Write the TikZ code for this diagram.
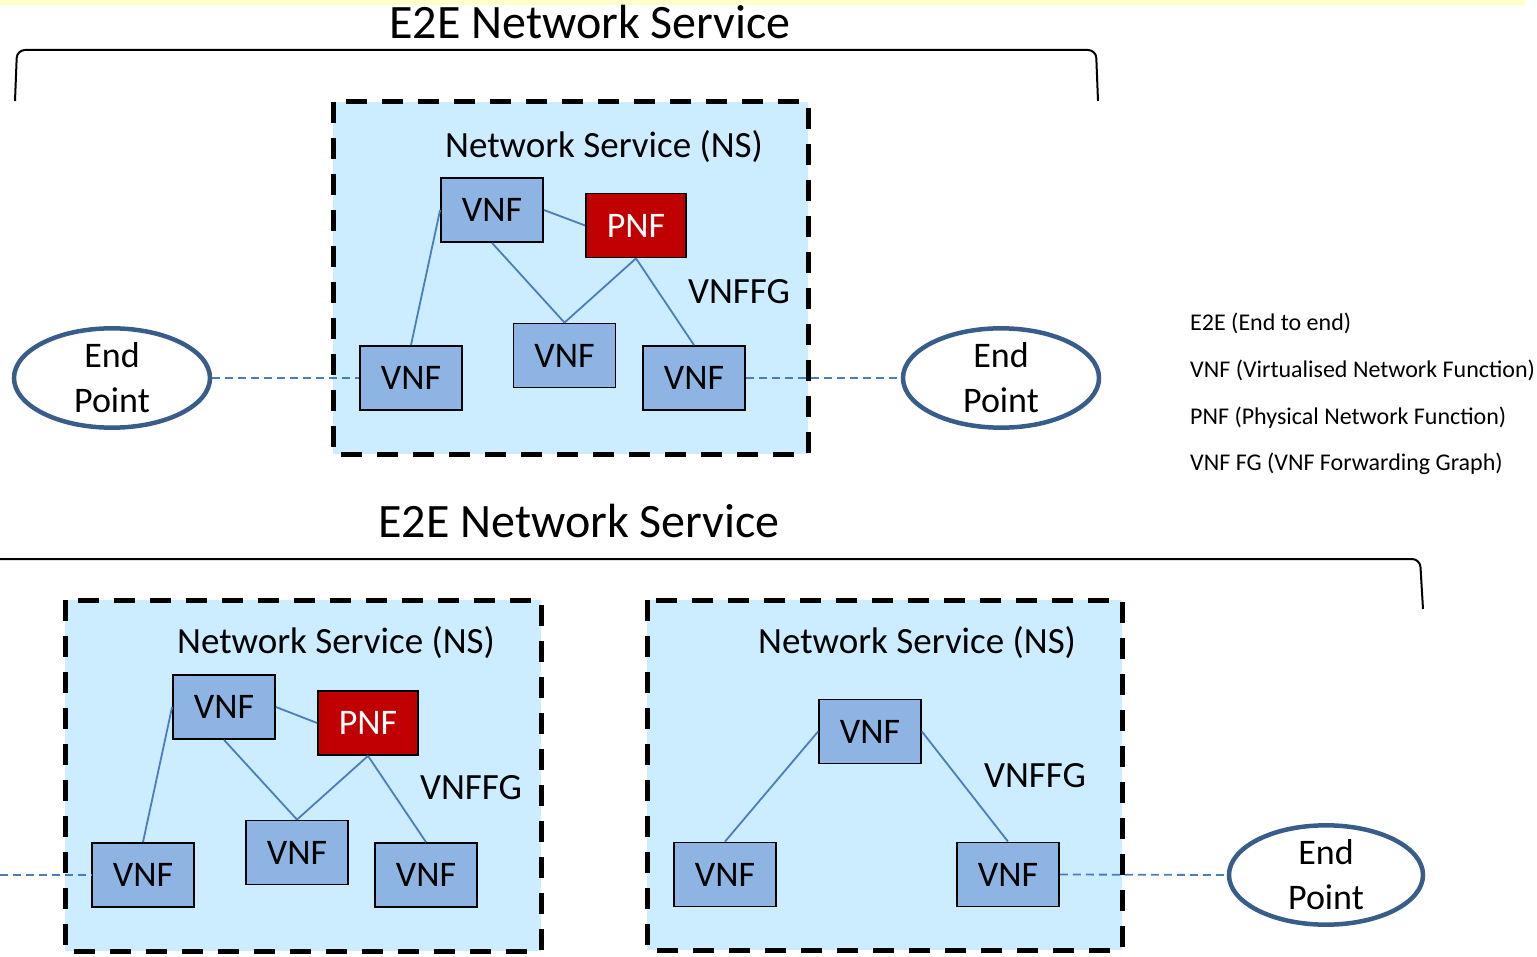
\documentclass[tikz,border=0pt]{standalone}
\usepackage{fontspec}
\setmainfont{Carlito}
\usetikzlibrary{
    arrows.meta,
    positioning,
    shapes.geometric
}
\definecolor{nsfill}{RGB}{204,236,255}
\definecolor{vnffill}{RGB}{142,180,227}
\definecolor{pnffill}{RGB}{192,0,0}
\definecolor{linkblue}{RGB}{74,126,187}
\definecolor{endblue}{RGB}{56,93,138}
\definecolor{topstrip}{RGB}{255,255,204}

\begin{document}
\begin{tikzpicture}[x=1pt, y=-1pt,
    vnf/.style={rectangle, draw=black, line width=1.8pt, fill=vnffill,
                minimum width=102pt, minimum height=64pt, inner sep=0pt,
                font=\fontsize{36}{40}\selectfont},
    pnf/.style={vnf, fill=pnffill, minimum width=100pt, text=white},
    nsbox/.style={fill=nsfill, draw=black, line width=5pt,
                  dash pattern=on 21pt off 15pt, line join=round},
    nslabel/.style={font=\fontsize{37}{40}\selectfont, inner sep=0pt},
    endpoint/.style={ellipse, draw=endblue, line width=4.5pt, fill=white,
                     minimum width=196pt, minimum height=98pt, inner sep=0pt,
                     align=center, font=\fontsize{36}{45}\selectfont},
    link/.style={linkblue, line width=1.8pt},
    extlink/.style={linkblue, line width=1.8pt, dash pattern=on 8pt off 5pt},
    brace/.style={black, line width=2pt, rounded corners=8pt},
    title/.style={font=\fontsize{48}{50}\selectfont, inner sep=0pt},
    legend/.style={font=\fontsize{24}{26}\selectfont, anchor=west, inner sep=0pt}]
    \useasboundingbox (0,0) rectangle (1537,957);
    \fill[topstrip] (0,0) rectangle (1526,5);

    %% Braces and titles
    \node[title] (t1) at (590,22) {E2E Network Service};
    \draw[brace] (15,101) -- (17,50) -- (1096,50) -- (1098,101);
    \node[title] (t2) at (579,521) {E2E Network Service};
    \draw[brace] (0,559) -- (1420,559) -- (1423,609);

    %% Network service boxes
    \draw[nsbox] (333,102) rectangle (808,454);
    \draw[nsbox] (65,600) rectangle (541,951);
    \draw[nsbox] (647,600) rectangle (1122,950);

    %% Nodes, top
    \node[nslabel] (ns1) at (604,147) {Network Service (NS)};
    \node[vnf] (vt1) at (492,210) {VNF};
    \node[pnf] (pnf1) at (636,225.5) {PNF};
    \node[vnf] (vm1) at (564.5,355.5) {VNF};
    \node[vnf] (vl1) at (411,378) {VNF};
    \node[vnf] (vr1) at (694,378) {VNF};
    \node[nslabel] (fg1) at (739,292) {VNFFG};
    \node[endpoint] (epl) at (112,378) {End\\Point};
    \node[endpoint] (epr) at (1001,378) {End\\Point};

    %% Nodes, bottom left
    \node[nslabel] (ns2) at (336,643) {Network Service (NS)};
    \node[vnf] (vt2) at (224,707) {VNF};
    \node[pnf] (pnf2) at (368,723) {PNF};
    \node[vnf] (vm2) at (297,852.5) {VNF};
    \node[vnf] (vl2) at (143,875) {VNF};
    \node[vnf] (vr2) at (426,875) {VNF};
    \node[nslabel] (fg2) at (471,788) {VNFFG};
    \coordinate (cut) at (0,875);

    %% Nodes, bottom right
    \node[nslabel] (ns3) at (917,643) {Network Service (NS)};
    \node[vnf] (vt3) at (870,731.5) {VNF};
    \node[vnf] (vl3) at (725,874.5) {VNF};
    \node[vnf] (vr3) at (1008,874.5) {VNF};
    \node[nslabel] (fg3) at (1035,776) {VNFFG};
    \node[endpoint, minimum width=194pt, minimum height=96pt] (ep3) at (1326,875) {End\\Point};

    %% Edges
    \draw[link] (vt1.west) -- (vl1.north);
    \draw[link] (vt1.east) -- (pnf1.west);
    \draw[link] (vt1.south) -- (vm1.north);
    \draw[link] (pnf1.south) -- (vm1.north);
    \draw[link] (pnf1.south) -- (vr1.north);
    \draw[extlink] (epl.east) -- (vl1.west);
    \draw[extlink] (vr1.east) -- (epr.west);

    \draw[link] (vt2.west) -- (vl2.north);
    \draw[link] (vt2.east) -- (pnf2.west);
    \draw[link] (vt2.south) -- (vm2.north);
    \draw[link] (pnf2.south) -- (vm2.north);
    \draw[link] (pnf2.south) -- (vr2.north);
    \draw[extlink] (cut) -- (vl2.west);

    \draw[link] (vt3.west) -- (vl3.north);
    \draw[link] (vt3.east) -- (vr3.north);
    \draw[extlink] (vr3.east) -- (ep3.west);

    %% Legend
    \node[legend] (lg1) at (1190,323) {E2E (End to end)};
    \node[legend] (lg2) at (1190,370) {VNF (Virtualised Network Function)};
    \node[legend] (lg3) at (1190,418) {PNF (Physical Network Function)};
    \node[legend] (lg4) at (1190,464) {VNF FG (VNF Forwarding Graph)};
\end{tikzpicture}
\end{document}
